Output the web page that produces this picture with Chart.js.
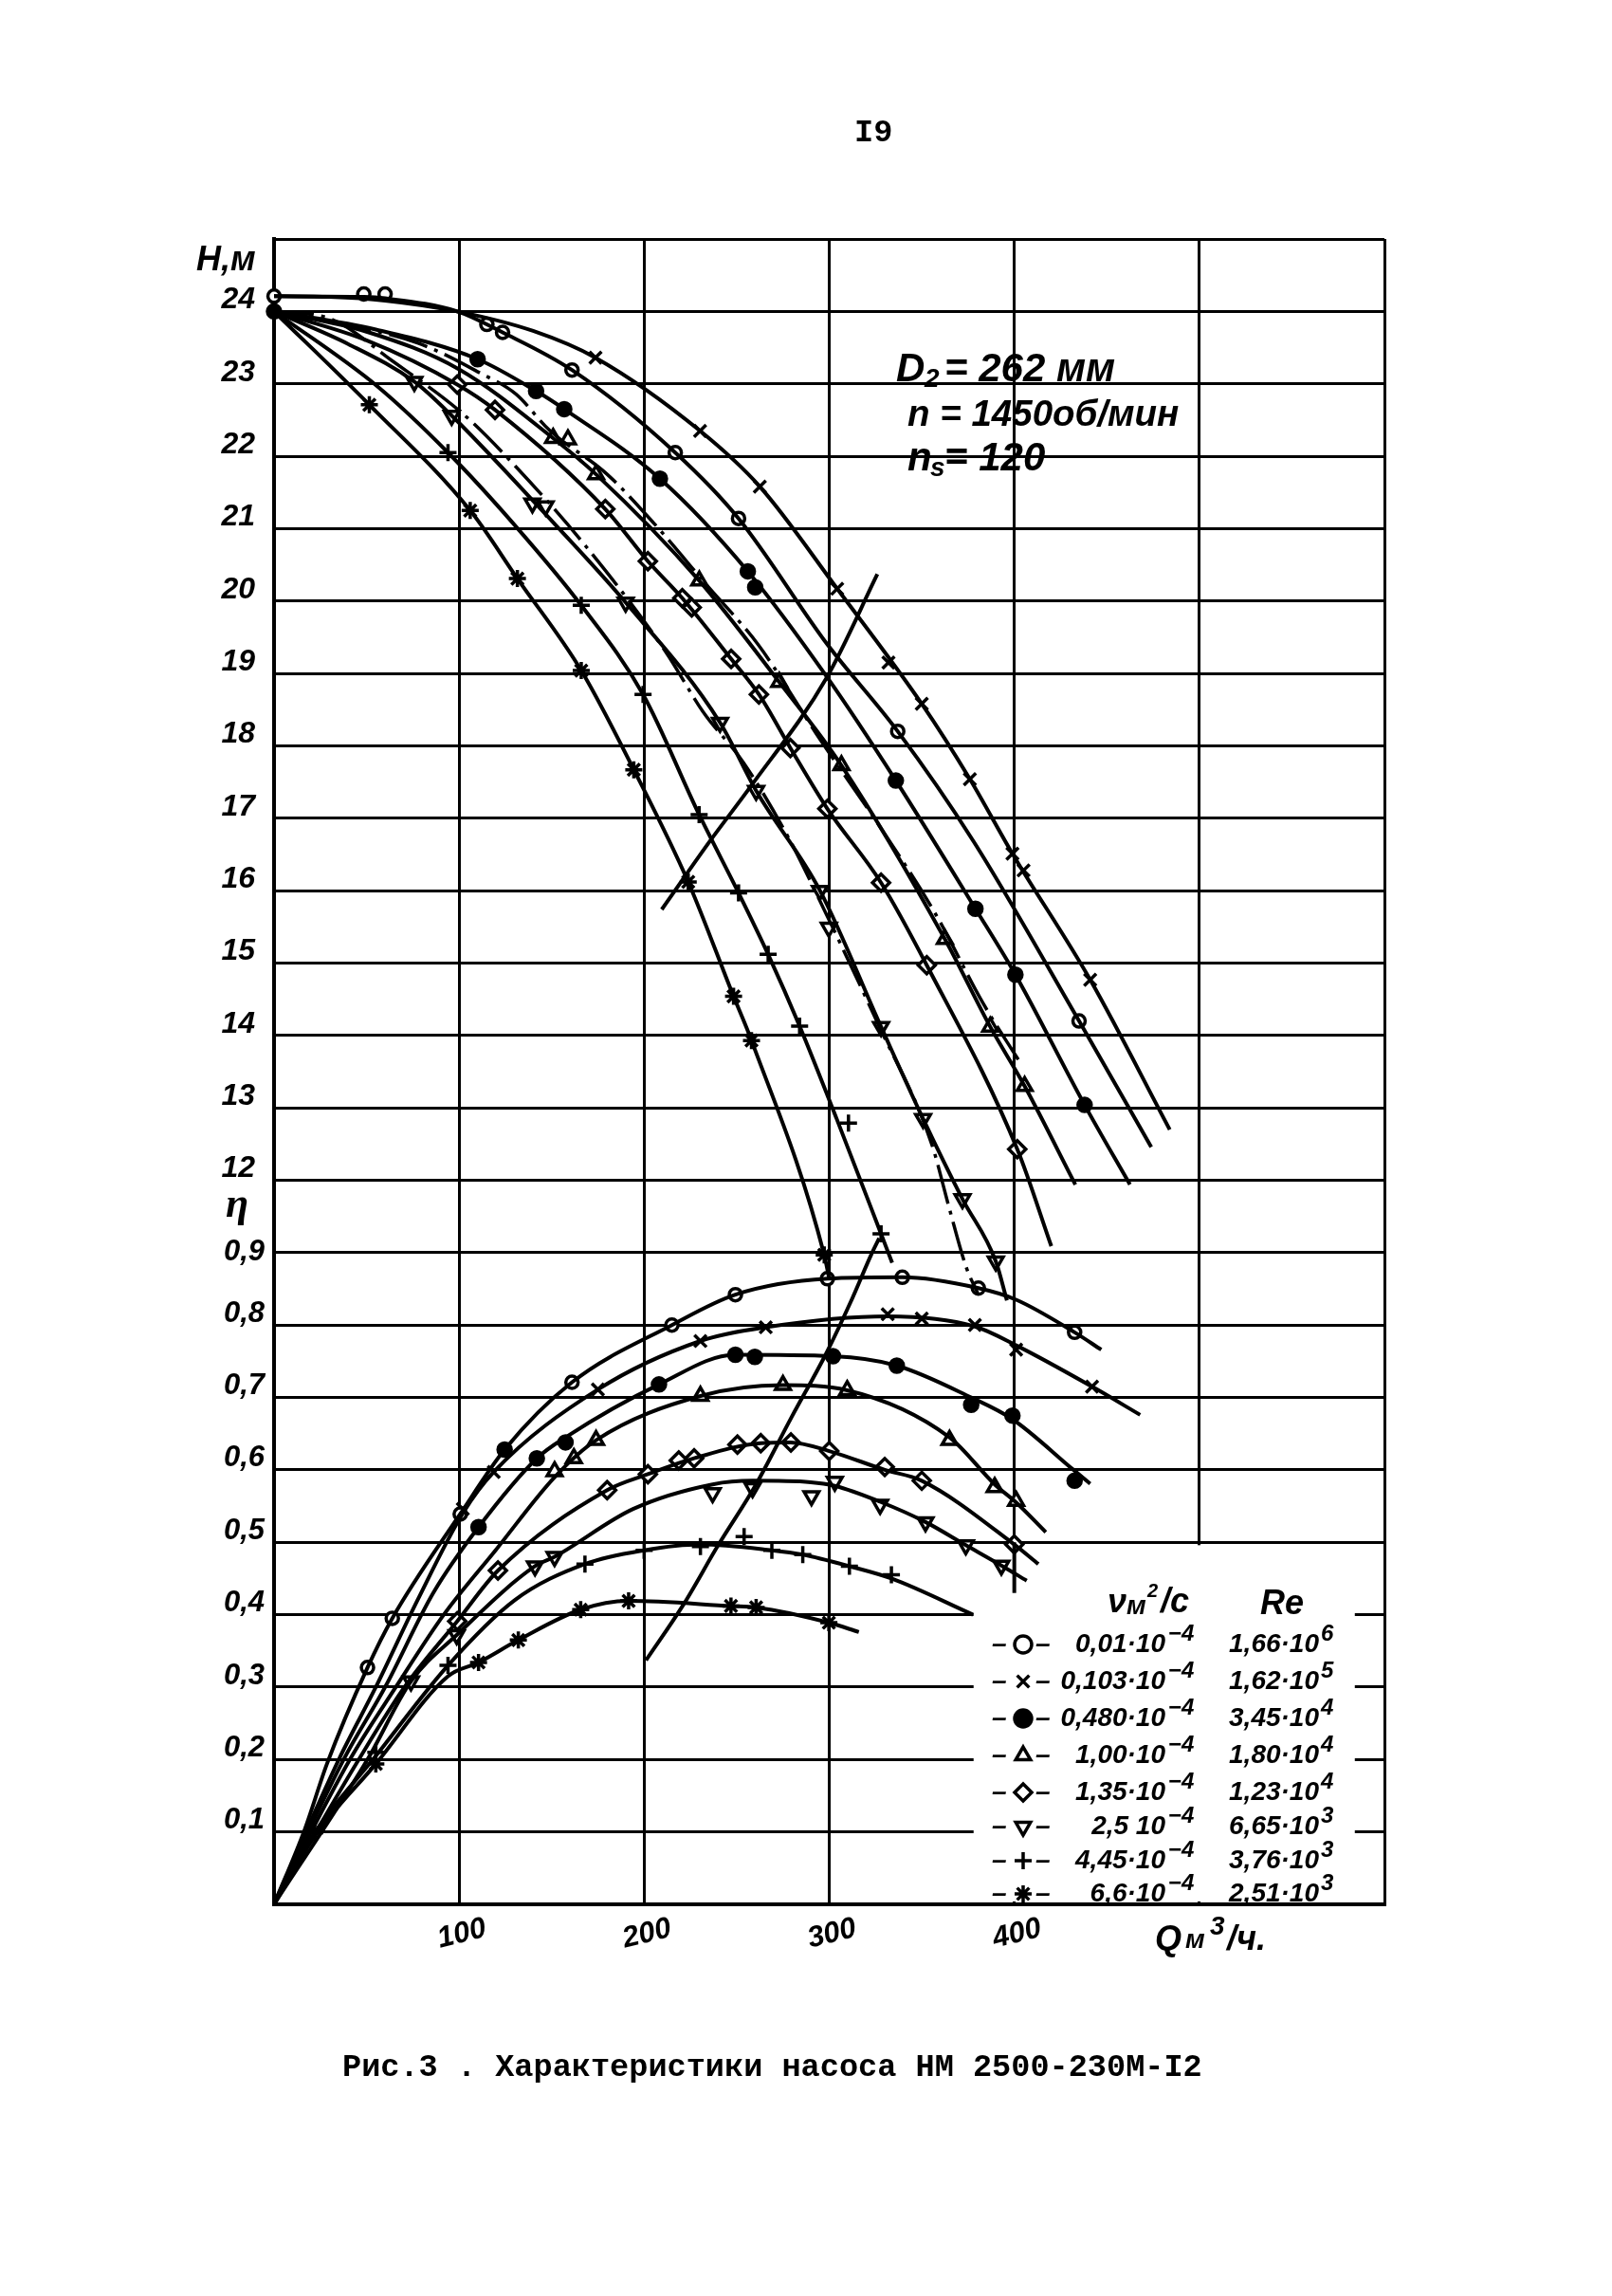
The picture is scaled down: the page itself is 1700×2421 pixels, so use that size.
<!DOCTYPE html>
<html>
<head>
  <meta charset="utf-8">
  <title>Характеристики насоса НМ 2500-230М-I2</title>
  <script src="https://cdn.jsdelivr.net/npm/chart.js"></script>
  <style>
    html, body { margin: 0; background: #fff; }
    canvas { display: block; }
  </style>
</head>
<body>
  <canvas id="myChart" width="1700" height="2421"></canvas>

  <script>
    // head curves, Q m3/h vs H m (lines, then the measured marks)
    const headLineA = [[0,24.21],[30,24.2],[60,24.15],[99,24],[140,23.73],[173.7,23.36],[230.2,22.35],[262.5,21.58],[304.3,20.17],[350,18.58],[376,17.54],[399,16.51],[441,14.77],[484,12.7]];
    const headLineB = [[0,24.21],[48.5,24.2],[60,24.18],[99,24],[123.5,23.71],[161,23.19],[216.8,22.05],[251,21.14],[299,19.4],[337,18.2],[378,16.68],[435,14.2],[474,12.46]];
    const headLineC = [[0,24],[55,23.75],[110,23.34],[141.6,22.9],[156.8,22.65],[208.5,21.69],[256,20.41],[298.8,18.95],[336,17.52],[379,15.75],[400.6,14.84],[438,13.04],[462.5,11.94]];
    const headLineD = [[0,24],[50,23.72],[100,23.2],[150.8,22.25],[174,21.75],[229.8,20.28],[273,18.88],[306.6,17.73],[362.5,15.33],[387,14.12],[405.6,13.3],[433,11.94]];
    const headLineE = [[0,24],[50,23.6],[99,22.99],[119.4,22.64],[179,21.27],[202,20.55],[220.6,20.04],[247,19.2],[262,18.71],[279,17.97],[299,17.13],[328,16.11],[352.7,14.97],[401.6,12.43],[420,11.09]];
    const headLineF = [[0,24],[40,23.55],[75.8,23.03],[96,22.56],[143,21.3],[190,19.98],[241,18.32],[260.5,17.38],[295,16],[328,14.12],[350.7,12.85],[372,11.74],[390,10.88],[396,10.34]];
    const headLineG = [[0,24],[55.6,22.97],[94,22.05],[130,21.05],[166,19.94],[199.4,18.71],[229.7,17.05],[251,15.97],[267,15.12],[284,14.13],[304,12.85],[328,11.26],[334,10.86]];
    const headLineK = [[0,24],[51.5,22.71],[106,21.25],[131.5,20.31],[166,19.04],[194.4,17.67],[223.8,16.12],[248.3,14.54],[258,13.93],[297.3,10.97],[300,10.64]];

    const headMarksA = [[173.7,23.36],[230.2,22.35],[262.5,21.58],[304.3,20.17],[332,19.15],[350,18.58],[376,17.54],[399,16.51],[405,16.28],[441,14.77]];
    const headMarksB = [[0,24.21],[48.5,24.24],[60,24.24],[115,23.82],[123.5,23.71],[161,23.19],[216.8,22.05],[251,21.14],[337,18.2],[435,14.2]];
    const headMarksC = [[0,24],[110,23.34],[141.6,22.9],[156.8,22.65],[208.5,21.69],[256,20.41],[260,20.19],[336,17.52],[379,15.75],[400.6,14.84],[438,13.04]];
    const headMarksD = [[150.8,22.25],[158.8,22.23],[174,21.75],[229.8,20.28],[273,18.88],[306.6,17.73],[362.5,15.33],[387,14.12],[405.6,13.3]];
    const headMarksE = [[99,22.99],[119.4,22.64],[179,21.27],[202,20.55],[220.6,20.04],[225.7,19.91],[247,19.2],[262,18.71],[279,17.97],[299,17.13],[328,16.11],[352.7,14.97],[401.6,12.43]];
    const headMarksF = [[75.8,23.03],[96,22.56],[139.6,21.35],[146.7,21.31],[190,19.98],[241,18.32],[260.5,17.38],[295,16],[299.8,15.49],[328,14.12],[350.7,12.85],[372,11.74],[390,10.88]];
    const headMarksG = [[94,22.05],[166,19.94],[199.4,18.71],[229.7,17.05],[251,15.97],[267,15.12],[284,14.13],[310.4,12.79],[328,11.26]];
    const headMarksK = [[51.5,22.71],[106,21.25],[131.5,20.31],[166,19.04],[194.4,17.67],[223.8,16.12],[248.3,14.54],[258,13.93],[297.3,10.97]];

    // dash-dot curves running beside the triangle curves
    const headDashUpper = [[0,24],[77.9,23.56],[111.3,23.15],[130.6,22.86],[148.8,22.36],[180,21.75],[205.4,21.07],[233.8,20.22],[261.8,19.39],[295,18.09],[328,16.86],[357.4,15.68],[383,14.45],[403.8,13.6]];
    const headDashLower = [[0,24],[31.2,23.89],[63.7,23.32],[103.2,22.56],[130.5,21.86],[169,20.74],[211.6,19.3],[231.8,18.47],[253.6,17.77],[278,16.73],[297,15.75],[326,14.18],[355.5,12.49],[365,11.6],[374,10.8],[380.6,10.42]];

    // efficiency curves, Q m3/h vs eta
    const etaLineB = [[0,0],[16.4,0.102],[28.6,0.194],[50.5,0.327],[63.9,0.395],[100.6,0.539],[124.6,0.628],[161,0.721],[215,0.8],[249.3,0.842],[299,0.864],[339.5,0.866],[380.6,0.851],[401,0.835],[432.6,0.79],[447,0.766]];
    const etaLineA = [[0,0],[35,0.2],[55,0.3],[77.5,0.42],[102,0.54],[118.7,0.597],[175,0.711],[230.4,0.778],[265.7,0.797],[331.6,0.812],[378.7,0.798],[401,0.772],[442,0.715],[468,0.676]];
    const etaLineC = [[0,0],[37.6,0.2],[60,0.3],[86,0.43],[110.5,0.521],[142,0.616],[157.5,0.645],[208,0.718],[249,0.759],[302,0.757],[336.5,0.744],[376.7,0.7],[399,0.67],[432,0.6],[441,0.581]];
    const etaLineD = [[0,0],[41,0.2],[65.8,0.3],[91.7,0.4],[120,0.49],[151.6,0.59],[174,0.641],[230.4,0.702],[275,0.717],[309.7,0.71],[365,0.645],[389.4,0.58],[401,0.555],[417,0.514]];
    const etaLineE = [[0,0],[45.8,0.2],[70.5,0.3],[99,0.391],[121,0.461],[180,0.572],[202,0.594],[227,0.616],[263,0.637],[279,0.638],[300,0.626],[330,0.6],[350,0.585],[400,0.497],[413,0.47]];
    const etaLineF = [[0,0],[50.5,0.2],[74,0.308],[98.7,0.372],[141,0.467],[151.6,0.48],[194,0.546],[237,0.58],[258.6,0.585],[290,0.583],[303,0.578],[327.5,0.556],[352,0.528],[373.8,0.496],[393,0.468],[406.7,0.447]];
    const etaLineG = [[0,0],[22,0.099],[55,0.205],[94,0.33],[130,0.42],[168,0.47],[200,0.489],[230.4,0.497],[269,0.489],[285.7,0.483],[310.9,0.467],[333.6,0.45],[377.7,0.4]];
    const etaLineK = [[0,0],[22.3,0.095],[55,0.194],[94,0.315],[110.5,0.334],[132,0.365],[165.7,0.407],[191.6,0.419],[246.9,0.412],[260.5,0.41],[299.8,0.389],[316,0.376]];

    const etaMarksB = [[50.5,0.327],[63.9,0.395],[100.6,0.539],[161,0.721],[215,0.8],[249.3,0.842],[299,0.864],[339.5,0.866],[380.6,0.851],[432.6,0.79]];
    const etaMarksA = [[102,0.546],[118.7,0.597],[175,0.711],[230.4,0.778],[265.7,0.797],[331.6,0.815],[350,0.809],[378.7,0.8],[401,0.766],[442,0.715]];
    const etaMarksC = [[110.5,0.521],[124.6,0.628],[142,0.616],[157.5,0.638],[208,0.718],[249.3,0.759],[259.8,0.756],[302,0.757],[336.5,0.744],[376.7,0.69],[399,0.675],[432.6,0.585]];
    const etaMarksD = [[151.6,0.598],[162,0.616],[174,0.641],[230.4,0.702],[275,0.717],[309.7,0.71],[365,0.641],[389.4,0.576],[401,0.557]];
    const etaMarksE = [[99,0.391],[121,0.461],[180,0.572],[202,0.594],[218.7,0.613],[227,0.616],[250.4,0.635],[263,0.637],[279.3,0.638],[300,0.626],[330,0.604],[350,0.585],[400,0.497]];
    const etaMarksF = [[74,0.308],[98.7,0.372],[141,0.467],[151.6,0.48],[237,0.568],[258.6,0.575],[290.4,0.564],[303,0.584],[327.5,0.552],[352,0.528],[373.8,0.496],[393,0.468]];
    const etaMarksG = [[22,0.099],[55,0.21],[94,0.33],[168,0.47],[200,0.489],[230.4,0.494],[254,0.508],[269,0.489],[285.7,0.483],[310.9,0.467],[333.6,0.455]];
    const etaMarksK = [[55,0.194],[110.5,0.334],[132,0.365],[165.7,0.407],[191.6,0.419],[246.9,0.412],[260.5,0.41],[299.8,0.389]];

    // the two lines crossing the family of curves
    const headLocus = [[209.5,15.74],[236,16.7],[257.6,17.44],[298.8,18.95],[326,20.37]];
    const etaLocus = [[201,0.337],[221,0.413],[240,0.496],[260,0.578],[279.7,0.673],[298.6,0.762],[311.6,0.832],[323,0.899],[327,0.92]];
    const gridStub = [[400,0.5],[400,0.43]];

    const xTickLabels = [100, 200, 300, 400];
    const etaTicks = [0.1, 0.2, 0.3, 0.4, 0.5, 0.6, 0.7, 0.8, 0.9];
    const etaTickLabels = ['0,1', '0,2', '0,3', '0,4', '0,5', '0,6', '0,7', '0,8', '0,9'];
    const legendNu = ['0,01·10', '0,103·10', '0,480·10', '1,00·10', '1,35·10', '2,5 10', '4,45·10', '6,6·10'];
    const legendRe = ['1,66·10', '1,62·10', '3,45·10', '1,80·10', '1,23·10', '6,65·10', '3,76·10', '2,51·10'];
    const legendReExp = ['6', '5', '4', '4', '4', '3', '3', '3'];

    const markerStyles = [
      { pointStyle: 'circle', fill: '#fff', radius: 6.5 },
      { pointStyle: 'crossRot', fill: '#fff', radius: 9 },
      { pointStyle: 'circle', fill: '#000', radius: 7 },
      { pointStyle: 'triangle', fill: '#fff', radius: 9 },
      { pointStyle: 'rectRot', fill: '#fff', radius: 9 },
      { pointStyle: 'triangle', rotation: 180, fill: '#fff', radius: 9 },
      { pointStyle: 'cross', fill: '#fff', radius: 9 },
      { pointStyle: 'star', fill: '#fff', radius: 9 }
    ];

    const xy = pts => pts.map(p => ({ x: p[0], y: p[1] }));

    function lineSet(pts, axis, dash) {
      return {
        data: xy(pts), yAxisID: axis, showLine: true,
        borderColor: '#000', borderWidth: dash ? 3.5 : 4, borderDash: dash || [],
        cubicInterpolationMode: 'monotone', pointRadius: 0
      };
    }

    function markSet(pts, axis, style) {
      return {
        data: xy(pts), yAxisID: axis, showLine: false, clip: false,
        pointStyle: style.pointStyle, pointRotation: style.rotation || 0, pointRadius: style.radius,
        pointBackgroundColor: style.fill, pointBorderColor: '#000', pointBorderWidth: 3.5
      };
    }

    // order of the lists follows the legend rows
    const headLines = [headLineB, headLineA, headLineC, headLineD, headLineE, headLineF, headLineG, headLineK];
    const headMarks = [headMarksB, headMarksA, headMarksC, headMarksD, headMarksE, headMarksF, headMarksG, headMarksK];
    const etaLines = [etaLineB, etaLineA, etaLineC, etaLineD, etaLineE, etaLineF, etaLineG, etaLineK];
    const etaMarks = [etaMarksB, etaMarksA, etaMarksC, etaMarksD, etaMarksE, etaMarksF, etaMarksG, etaMarksK];

    let datasets = [];
    headLines.forEach(l => datasets.push(lineSet(l, 'y')));
    etaLines.forEach(l => datasets.push(lineSet(l, 'yEta')));
    datasets.push(lineSet(headDashUpper, 'y', [42, 8, 4, 8]));
    datasets.push(lineSet(headDashLower, 'y', [42, 8, 4, 8]));
    datasets.push(lineSet(headLocus, 'y'));
    datasets.push(lineSet(etaLocus, 'yEta'));
    datasets.push(lineSet(gridStub, 'yEta'));
    headMarks.forEach((m, i) => datasets.push(markSet(m, 'y', markerStyles[i])));
    etaMarks.forEach((m, i) => datasets.push(markSet(m, 'yEta', markerStyles[i])));

    // the grid stops around the legend table
    const legendMask = {
      id: 'legendMask',
      beforeDatasetsDraw(chart) {
        const x = chart.scales.x, eta = chart.scales.yEta, ctx = chart.ctx;
        const left = x.getPixelForValue(378), right = x.getPixelForValue(584);
        const top = eta.getPixelForValue(0.496), bottom = eta.getPixelForValue(0.004);
        ctx.save();
        ctx.fillStyle = '#fff';
        ctx.fillRect(left, top, right - left, bottom - top);
        ctx.restore();
      }
    };

    function put(ctx, str, x, y, font, align) {
      ctx.save();
      ctx.font = font;
      ctx.fillStyle = '#000';
      ctx.textBaseline = 'middle';
      ctx.textAlign = align || 'left';
      ctx.fillText(str, x, y);
      ctx.restore();
    }

    const pageText = {
      id: 'pageText',
      afterDraw(chart) {
        const ctx = chart.ctx;
        const hand = 'italic bold 28px "Liberation Sans"';
        const handSup = 'italic bold 24px "Liberation Sans"';
        const handBig = 'italic bold 36px "Liberation Sans"';
        const handBigger = 'italic bold 42px "Liberation Sans"';
        const mono = 'bold 33.6px "Liberation Mono"';

        put(ctx, 'I9', 901, 141, mono);
        put(ctx, 'Рис.3 . Характеристики насоса НМ 2500-230М-I2', 361, 2181, mono);

        // eta tick labels share the left margin with the H ticks, nearer the axis
        etaTicks.forEach((v, i) => {
          const py = chart.scales.yEta.getPixelForValue(v);
          put(ctx, etaTickLabels[i], 279, v === 0.9 ? py : py - 12, 'italic bold 31px "Liberation Sans"', 'right');
        });

        put(ctx, 'H,м', 207, 275, handBig);
        put(ctx, 'η', 238, 1272, 'italic bold 44px "Liberation Serif"');
        put(ctx, 'Q', 1218, 2046, handBig);
        put(ctx, 'м', 1250, 2046, hand);
        put(ctx, '3', 1276, 2032, hand);
        put(ctx, '/ч.', 1294, 2046, handBig);

        put(ctx, 'D', 945, 390, handBigger);
        put(ctx, '2', 975, 400, hand);
        put(ctx, '= 262 мм', 996, 390, handBigger);
        put(ctx, 'n = 1450об/мин', 957, 438, 'italic bold 38.5px "Liberation Sans"');
        put(ctx, 'n', 957, 484, handBigger);
        put(ctx, 's', 981, 494, hand);
        put(ctx, '= 120', 996, 484, handBigger);

        put(ctx, 'ν', 1168, 1690, handBig);
        put(ctx, 'м', 1188, 1694, hand);
        put(ctx, '2', 1210, 1678, 'italic bold 20px "Liberation Sans"');
        put(ctx, '/с', 1224, 1690, handBig);
        put(ctx, 'Re', 1329, 1692, handBig);

        const rows = [1734, 1773, 1812, 1851, 1890, 1926, 1962, 1997];
        legendNu.forEach((label, i) => {
          const y = rows[i];
          put(ctx, '–', 1046, y, hand);
          put(ctx, '–', 1092, y, hand);
          ctx.save();
          ctx.strokeStyle = '#000';
          ctx.lineWidth = 3.5;
          ctx.fillStyle = markerStyles[i].fill;
          Chart.helpers.drawPoint(ctx, {
            pointStyle: markerStyles[i].pointStyle,
            rotation: markerStyles[i].rotation || 0,
            radius: 9, borderWidth: 3.5
          }, 1079, y);
          ctx.restore();

          put(ctx, label, 1229, y, hand, 'right');
          put(ctx, '−4', 1232, y - 11, handSup);
          put(ctx, legendRe[i], 1391, y, hand, 'right');
          put(ctx, legendReExp[i], 1393, y - 11, handSup);
        });
      }
    };

    let ctx = document.getElementById('myChart').getContext('2d');
    let myChart = new Chart(ctx, {
      type: 'scatter',
      data: { datasets: datasets },
      plugins: [legendMask, pageText],
      options: {
        responsive: false,
        animation: false,
        layout: { padding: { left: 229, right: 240, top: 252, bottom: 343 } },
        plugins: { legend: { display: false }, tooltip: { enabled: false } },
        scales: {
          x: {
            type: 'linear', min: 0, max: 600,
            afterFit: s => { s.height = 70; },
            grid: { color: '#000', lineWidth: 3, drawTicks: false },
            border: { color: '#000', width: 4 },
            ticks: {
              stepSize: 100, minRotation: 14, maxRotation: 14, padding: 7, labelOffset: 28,
              color: '#000',
              font: { family: 'Liberation Sans', style: 'italic', weight: 'bold', size: 31 },
              callback: v => xTickLabels.includes(v) ? String(v) : ''
            }
          },
          y: {
            type: 'linear', min: 2, max: 25,
            afterFit: s => { s.width = 60; },
            grid: { color: '#000', lineWidth: 3, drawTicks: false },
            border: { color: '#000', width: 4 },
            ticks: {
              stepSize: 1, padding: 20, labelOffset: -12,
              color: '#000',
              font: { family: 'Liberation Sans', style: 'italic', weight: 'bold', size: 32 },
              callback: v => (v >= 12 && v <= 24) ? String(v) : ''
            }
          },
          // same pixels as y: 0 at H=2, 0.1 per H unit
          yEta: { type: 'linear', display: false, min: 0, max: 2.3 }
        }
      }
    });
  </script>
</body>
</html>
